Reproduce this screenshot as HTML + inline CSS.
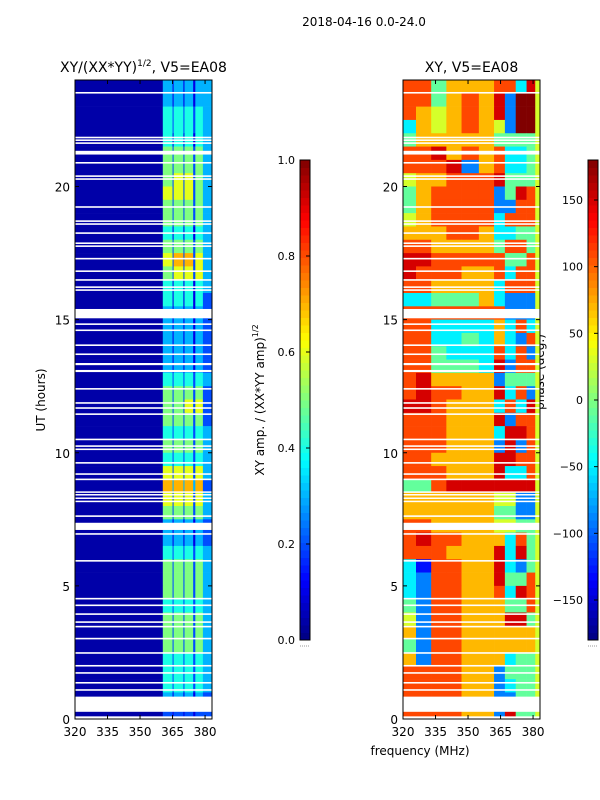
<!DOCTYPE html>
<html><head><meta charset="utf-8"><style>
html,body{margin:0;padding:0;background:#fff;}
svg{display:block;font-family:"DejaVu Sans","Liberation Sans",sans-serif;}
</style></head><body>
<svg id="fig" width="600" height="800" viewBox="0 0 600 800" xmlns="http://www.w3.org/2000/svg">
<text x="364" y="26" font-size="12" text-anchor="middle">2018-04-16 0.0-24.0</text>
<text x="143.5" y="72" font-size="14" text-anchor="middle">XY/(XX*YY)<tspan font-size="9" dy="-6">1/2</tspan><tspan dy="6">, V5=EA08</tspan></text>
<text x="471.5" y="72" font-size="14" text-anchor="middle">XY, V5=EA08</text>
<text transform="translate(45,400) rotate(-90)" font-size="12" text-anchor="middle">UT (hours)</text>
<text x="420" y="755" font-size="12" text-anchor="middle">frequency (MHz)</text>
<text transform="translate(264,400) rotate(-90)" font-size="12" text-anchor="middle">XY amp. / (XX*YY amp)<tspan font-size="8" dy="-6">1/2</tspan></text>
<text transform="translate(544,372) rotate(-90)" font-size="12" text-anchor="middle">phase (deg.)</text>
<g id="ampG"></g>
<g id="phG"></g>
<g id="axG"></g>
</svg>
<script>
const timeRange = [0, 24];
const freqRange = [320, 383.2];
const xTicks = [320, 335, 350, 365, 380];
const yTicks = [0, 5, 10, 15, 20];
const ampFreqEdges = [320, 360.5, 365, 365.5, 370, 370.5, 374.5, 375.5, 379, 383.2];
const ampRows = [
"031313133","031313133","042424243","042424243","041414143","052525253","052525253","052626253",
"062626253","052525253","052525253","041414143","052525253","062727263","052626263","041414143",
"041414142","031313132","031313132","031313132","031313132","031313132","042424243","052525252",
"052526262","052525252","042424243","052525253","042424243","062626263","073737372","062626263",
"052525253","031313132","031313132","042424243","052525253","052525253","052525253","042424243",
"052525253","052525253","052525253","042424243","042424243","042424243","031313132","021212122"];
const phFreqEdges = [320, 326, 333, 340, 347, 355, 362, 367, 372, 377, 381, 383.2];
const phRows = [
"77466677385","77467682995","76567682995","36567652995","46666644445","77867673345","77782673345","56677784445",
"46777724875","46777722775","56777737775","66677633445","77666647745","88777774475","87776673775","77666637775",
"33444632225","77777772225","77333363735","77334363275","77433373725","77444382775","78666624445","78776683725",
"88766637385","77766682775","77766638875","77766628275","77666688775","77766683375","44788888885","66666655225",
"66666644225","77666655445","78776663745","77766683845","31776683245","32776684475","32776673875","42776664475",
"52776668845","62776666665","42776666665","62776663445","77776624445","77776623445","77776622445","77776628445"];
const gaps = [[0,0.1],[0.27,0.84],[1.06,1.12],[1.33,1.39],[1.7,1.76],[1.97,2.03],[2.45,2.51],[2.99,3.05],[3.44,3.5],[3.61,3.67],
[3.91,3.97],[4.24,4.3],[4.49,4.55],[5.91,5.97],[6.92,6.98],[7.1,7.37],[7.59,7.65],[8.15,8.2],[8.27,8.32],[8.4,8.45],[8.5,8.55],
[8.97,9.03],[9.17,9.23],[9.59,9.65],[10.1,10.16],[10.22,10.28],[10.47,10.53],[11.42,11.48],[11.65,11.71],[11.84,11.9],
[12.37,12.43],[13.03,13.11],[13.29,13.37],[13.67,13.73],[14.01,14.07],[14.57,14.63],[14.8,14.86],[15.05,15.4],
[16.08,16.14],[16.19,16.25],[16.46,16.52],[16.79,16.85],[17.26,17.32],[17.73,17.79],[17.84,17.9],[18.22,18.28],
[18.56,18.62],[18.67,18.73],[19.2,19.26],[20.25,20.31],[20.36,20.42],[20.86,20.92],[21.2,21.34],[21.6,21.66],
[21.71,21.77],[21.81,21.87],[23.49,23.55]];
const ampTicks = [0.0, 0.2, 0.4, 0.6, 0.8, 1.0];
const phTicks = [-150, -100, -50, 0, 50, 100, 150];

const NS = "http://www.w3.org/2000/svg";
function mk(tag, attrs, parent){const e=document.createElementNS(NS,tag);for(const k in attrs)e.setAttribute(k,attrs[k]);parent.appendChild(e);return e;}
function jet(v){v=Math.max(0,Math.min(1,v));
 const r=Math.max(0,Math.min(1,1.5-Math.abs(4*v-3))),g=Math.max(0,Math.min(1,1.5-Math.abs(4*v-2))),b=Math.max(0,Math.min(1,1.5-Math.abs(4*v-1)));
 return `rgb(${Math.round(r*255)},${Math.round(g*255)},${Math.round(b*255)})`;}
const Y0=719, Y1=80;
function yScale(t){return Y0-(t-timeRange[0])/(timeRange[1]-timeRange[0])*(Y0-Y1);}
function xScaleFor(x0,x1){return f=>x0+(f-freqRange[0])/(freqRange[1]-freqRange[0])*(x1-x0);}
const panels=[{x0:75,x1:212,g:'ampG',edges:ampFreqEdges,rows:ampRows,val:d=>d===0?0.04:d/10,name:'amp'},
 {x0:403,x1:540,g:'phG',edges:phFreqEdges,rows:phRows,val:d=>(d*40+10)/360,name:'phase'}];
const ax=document.getElementById('axG');
panels.forEach(p=>{
 const g=document.getElementById(p.g), xs=xScaleFor(p.x0,p.x1);
 const n=p.rows.length, dt=(timeRange[1]-timeRange[0])/n;
 p.rows.forEach((row,i)=>{
  const tTop=timeRange[1]-i*dt, tBot=tTop-dt;
  for(let j=0;j<row.length;j++){
   const xa=xs(p.edges[j]), xb=xs(p.edges[j+1]);
   const c=mk('rect',{x:xa,y:yScale(tTop),width:xb-xa+0.3,height:yScale(tBot)-yScale(tTop)+0.3,fill:jet(p.val(+row[j]))},g);
   
   
  }
 });
 gaps.forEach(gp=>{
  const r=mk('rect',{x:p.x0,y:yScale(gp[1]),width:p.x1-p.x0,height:Math.max(1.5,yScale(gp[0])-yScale(gp[1])),fill:'#fff'},g);
  
  
 });
 const fr=mk('rect',{x:p.x0,y:Y1,width:p.x1-p.x0,height:Y0-Y1,fill:'none',stroke:'#000','stroke-width':1},ax);
 
 
 xTicks.forEach(f=>{const x=xs(f);
  mk('line',{x1:x,x2:x,y1:Y0,y2:Y0-4,stroke:'#000'},ax);mk('line',{x1:x,x2:x,y1:Y1,y2:Y1+4,stroke:'#000'},ax);
  const t=mk('text',{x:x,y:Y0+17,'font-size':12,'text-anchor':'middle'},ax);t.textContent=f;
  
  
 });
 yTicks.forEach(v=>{const y=yScale(v);
  mk('line',{x1:p.x0,x2:p.x0+4,y1:y,y2:y,stroke:'#000'},ax);mk('line',{x1:p.x1,x2:p.x1-4,y1:y,y2:y,stroke:'#000'},ax);
  const t=mk('text',{x:p.x0-5,y:y+5,'font-size':12,'text-anchor':'end'},ax);t.textContent=v;
  
  
 });
});
const cbs=[{x:300,ticks:ampTicks,min:0,max:1,fmt:v=>v.toFixed(1),name:'amp'},{x:588,ticks:phTicks,min:-180,max:180,fmt:v=>v<0?'\u2212'+(-v):''+v,name:'phase'}];
const CB0=640, CB1=160;
cbs.forEach(cb=>{
 const N=64;
 for(let i=0;i<N;i++){
  const r=mk('rect',{x:cb.x,y:CB0-(i+1)*(CB0-CB1)/N,width:10,height:(CB0-CB1)/N+0.5,fill:jet((i+0.5)/N)},ax);
  
  
 }
 const f=mk('rect',{x:cb.x,y:CB1,width:10,height:CB0-CB1,fill:'none',stroke:'#000'},ax);
 
 
 mk('line',{x1:cb.x,x2:cb.x+10,y1:646,y2:646,stroke:'#999','stroke-dasharray':'1,1'},ax);
 cb.ticks.forEach(v=>{const y=CB0-(v-cb.min)/(cb.max-cb.min)*(CB0-CB1);
  mk('line',{x1:cb.x+6,x2:cb.x+10,y1:y,y2:y,stroke:'#000'},ax);
  const t=mk('text',{x:cb.x-5,y:y+4,'font-size':11,'text-anchor':'end'},ax);t.textContent=cb.fmt(v);
  
  
 });
});
</script>
</body></html>
